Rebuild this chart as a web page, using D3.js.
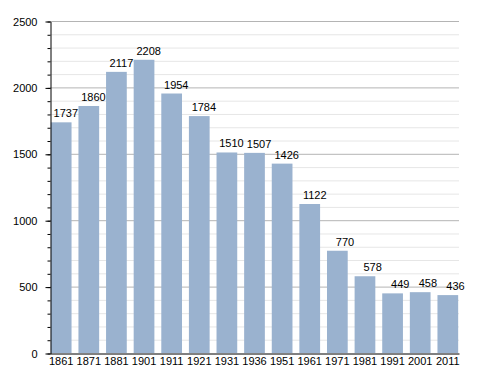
<!DOCTYPE html>
<html>
<head>
<meta charset="utf-8">
<script src="https://cdn.jsdelivr.net/npm/d3@7"></script>
<style>
  body { margin: 0; background: #fff; }
  text { font-family: "Liberation Sans", Arial, sans-serif; fill: #000; }
</style>
</head>
<body>
<script>
'use strict';

// census years and population
const years = ['1861', '1871', '1881', '1901', '1911', '1921', '1931', '1936',
  '1951', '1961', '1971', '1981', '1991', '2001', '2011'];
const population = [1737, 1860, 2117, 2208, 1954, 1784, 1510, 1507,
  1426, 1122, 770, 578, 449, 458, 436];
const majorTicks = [0, 500, 1000, 1500, 2000, 2500];
const minorTicks = d3.range(0, 2501, 100);

(function () {
  const data = years.map((yr, i) => ({ year: yr, value: population[i] }));

  const svg = d3.select('body')
    .append('svg')
    .attr('width', 488)
    .attr('height', 373);

  const plotLeft = 50, plotRight = 459, plotTop = 21, plotBottom = 353;

  let x = d3.scaleBand()
    .domain(years)
    .range([plotLeft, plotRight])
    .paddingInner(0.25)
    .paddingOuter(0.03);

  let y = d3.scaleLinear()
    .domain([0, 2500])
    .range([plotBottom, plotTop]);

  // minor grid lines
  svg.append('g')
    .selectAll('line')
    .data(minorTicks.filter(d => d % 500 !== 0))
    .enter()
    .append('line')
    .attr('x1', plotLeft)
    .attr('x2', plotRight)
    .attr('y1', d => y(d) + 0.5)
    .attr('y2', d => y(d) + 0.5)
    .attr('stroke', '#e6e6e6');

  // major grid lines
  svg.append('g')
    .selectAll('line')
    .data(majorTicks.filter(d => d > 0))
    .enter()
    .append('line')
    .attr('x1', plotLeft)
    .attr('x2', plotRight)
    .attr('y1', d => y(d) + 0.5)
    .attr('y2', d => y(d) + 0.5)
    .attr('stroke', '#b4b4b4');

  // bars
  svg.append('g')
    .selectAll('rect')
    .data(data)
    .enter()
    .append('rect')
    .attr('x', d => x(d.year))
    .attr('y', d => y(d.value))
    .attr('width', x.bandwidth())
    .attr('height', d => plotBottom - y(d.value))
    .attr('fill', '#9ab2cf');

  // value labels, right edge sits just past the bar's right side
  svg.append('g')
    .selectAll('text')
    .data(data)
    .enter()
    .append('text')
    .attr('x', d => x(d.year) + x.bandwidth() + 6.5)
    .attr('y', d => y(d.value) - 5)
    .attr('text-anchor', 'end')
    .style('font-size', '11px')
    .text(d => d.value);

  // y axis, minor ticks
  svg.append('g')
    .attr('transform', 'translate(' + (plotLeft + 0.5) + ',0.5)')
    .call(d3.axisLeft(y).tickValues(minorTicks).tickSize(3).tickFormat(''))
    .call(g => g.select('.domain').remove());

  // y axis, major ticks and labels
  svg.append('g')
    .attr('transform', 'translate(' + (plotLeft + 0.5) + ',0.5)')
    .call(d3.axisLeft(y).tickValues(majorTicks).tickSize(5).tickPadding(8)
      .tickSizeOuter(0).tickFormat(d3.format('d')))
    .call(g => g.selectAll('text').style('font-size', '11px').attr('fill', '#000'));

  // x axis
  svg.append('g')
    .attr('transform', 'translate(0,' + (plotBottom + 0.5) + ')')
    .call(d3.axisBottom(x).tickSize(0).tickPadding(3.5).tickSizeOuter(0))
    .call(g => g.selectAll('text').style('font-size', '11px').attr('fill', '#000'));
})();
</script>
</body>
</html>
